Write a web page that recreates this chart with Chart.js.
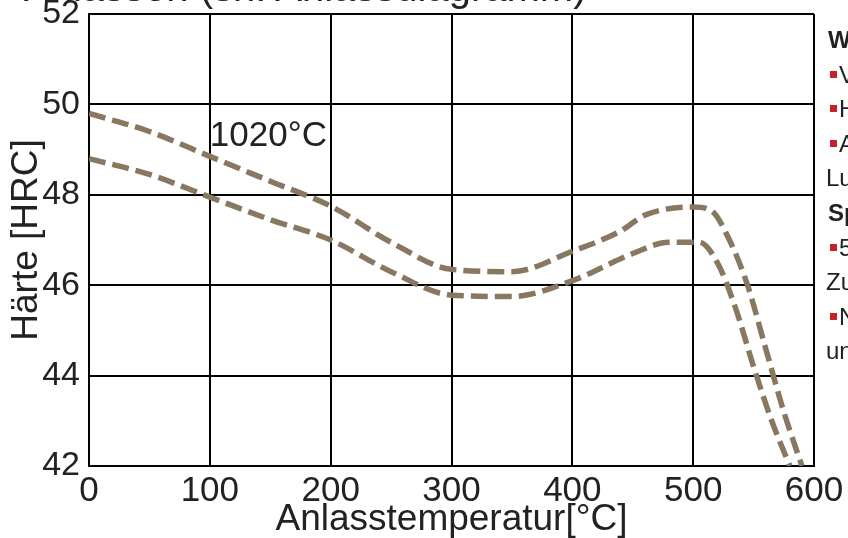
<!DOCTYPE html>
<html>
<head>
<meta charset="utf-8">
<script src="https://cdn.jsdelivr.net/npm/chart.js@4"></script>
<style>
  html, body { margin: 0; padding: 0; background: #fff; overflow: hidden; }
  #wrap { position: relative; width: 848px; height: 538px; overflow: hidden; }
  #box { position: absolute; left: 0; top: 0; width: 848px; height: 538px; }
  #title {
    position: absolute; left: 24px; top: -33px;
    font: 40px "Liberation Sans", Arial, sans-serif; line-height: 40px;
    color: #222; white-space: nowrap;
  }
  #side {
    position: absolute; left: 826px; top: 23px;
    font: 24px "Liberation Sans", Arial, sans-serif; line-height: 34.6px;
    color: #222; white-space: nowrap;
  }
  #side b { font-weight: bold; padding-left: 2px; }
  .sq {
    display: inline-block; width: 7px; height: 7px; background: #c8202f;
    margin: 0 2px 0 4px; vertical-align: 5px;
  }
</style>
</head>
<body>
<div id="wrap">
  <div id="box"><canvas id="hardChart"></canvas></div>
  <div id="title">Anlassen (sh. Anlassdiagramm)</div>
  <div id="side">
    <div><b>Wärmebehandlung</b></div>
    <div><span class="sq"></span>Vorwärmen 600–850°C</div>
    <div><span class="sq"></span>Härten 1000–1040°C</div>
    <div><span class="sq"></span>Abschrecken in Öl, Warmbad oder</div>
    <div>Luft</div>
    <div><b>Spannungsarmglühen</b></div>
    <div><span class="sq"></span>580–650°C, 1–2 h Halten,</div>
    <div>Zum Abbau von Spannungen</div>
    <div><span class="sq"></span>Nach Ofenabkühlung</div>
    <div>und Anlassen</div>
  </div>
</div>
<script>
// =========================================
// DATA
// =========================================

const upperTemp = [0, 50, 100, 150, 200, 250, 300, 350, 400, 440, 460, 500, 515, 530, 545, 560, 575, 590];
const upperHRC  = [49.8, 49.4, 48.85, 48.3, 47.75, 46.95, 46.35, 46.3, 46.75, 47.2, 47.55, 47.73, 47.65, 47.0, 46.0, 44.6, 43.2, 42.0];

const lowerTemp = [0, 50, 100, 150, 200, 250, 300, 350, 400, 450, 480, 505, 520, 535, 550, 565, 580];
const lowerHRC  = [48.8, 48.45, 47.95, 47.45, 47.0, 46.3, 45.78, 45.75, 46.1, 46.7, 46.95, 46.95, 46.5, 45.5, 44.2, 43.0, 42.0];

const curveLabel = "1020°C";
const curveLabelAt = [100, 49.3];

const textFont = "'Liberation Sans', Arial, sans-serif";
const lineColor = "#887862";

function toPoints(xs, ys) {
  return xs.map((x, i) => ({ x: x, y: ys[i] }));
}

// =========================================
// LABEL PLUGIN
// =========================================

const curveLabelPlugin = {
  id: "curveLabel",
  afterDatasetsDraw(chart) {
    const ctx = chart.ctx;
    const xs = chart.scales.x;
    const ys = chart.scales.y;
    ctx.save();
    ctx.font = "35px " + textFont;
    ctx.fillStyle = "#222";
    ctx.textAlign = "left";
    ctx.textBaseline = "middle";
    ctx.fillText(curveLabel, xs.getPixelForValue(curveLabelAt[0]), ys.getPixelForValue(curveLabelAt[1]));
    ctx.restore();
  }
};

// =========================================
// CHART
// =========================================

const ctx = document.getElementById("hardChart");

new Chart(ctx, {
  type: "line",
  data: {
    datasets: [{
      data: toPoints(upperTemp, upperHRC),
      borderColor: lineColor,
      borderWidth: 5.5,
      borderDash: [17, 7],
      pointRadius: 0,
      fill: false,
      cubicInterpolationMode: "monotone"
    }, {
      data: toPoints(lowerTemp, lowerHRC),
      borderColor: lineColor,
      borderWidth: 5.5,
      borderDash: [17, 7],
      pointRadius: 0,
      fill: false,
      cubicInterpolationMode: "monotone"
    }]
  },
  options: {
    responsive: true,
    maintainAspectRatio: false,
    animation: false,
    layout: { padding: { top: 14, right: 34, bottom: 0, left: 0 } },
    plugins: {
      legend: { display: false },
      tooltip: { enabled: false }
    },
    scales: {
      x: {
        type: "linear",
        min: 0,
        max: 600,
        ticks: {
          stepSize: 100,
          color: "#222",
          padding: 4,
          maxRotation: 0,
          font: { family: textFont, size: 35, lineHeight: 1.23 }
        },
        grid: { color: "#000", lineWidth: 2, drawTicks: false },
        border: { color: "#000", width: 2 },
        title: {
          display: true,
          text: "Anlasstemperatur[°C]",
          color: "#222",
          padding: { top: 0, bottom: 0 },
          font: { family: textFont, size: 37, lineHeight: 1 }
        },
        afterFit(scale) { scale.height = 72; }
      },
      y: {
        min: 42,
        max: 52,
        ticks: {
          stepSize: 2,
          color: "#222",
          padding: 9,
          font: { family: textFont, size: 34, lineHeight: 0.25 }
        },
        grid: { color: "#000", lineWidth: 2, drawTicks: false },
        border: { color: "#000", width: 2 },
        title: {
          display: true,
          text: "Härte [HRC]",
          color: "#222",
          padding: { top: 8, bottom: 0 },
          font: { family: textFont, size: 37, lineHeight: 1 }
        },
        afterFit(scale) { scale.width = 89; }
      }
    }
  },
  plugins: [curveLabelPlugin]
});
</script>
</body>
</html>
